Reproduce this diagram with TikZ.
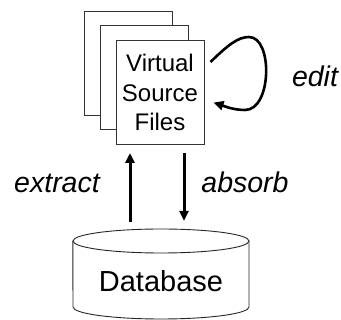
\documentclass[tikz,border=0pt]{standalone}
\usepackage{fontspec}
\setmainfont{Liberation Sans}
\usetikzlibrary{arrows.meta}
\begin{document}
\begin{tikzpicture}[x=1pt,y=-1pt,
  page/.style={draw=black!80,line width=1pt,fill=white,minimum width=88pt,minimum height=104pt,inner sep=0pt},
  pagetext/.style={font=\fontsize{24}{29.5}\selectfont,align=center},
  arr/.style={line width=3pt,-{Triangle[length=10pt,width=9pt]}},
  lbl/.style={font=\fontsize{28.5}{30}\selectfont\itshape,anchor=base,inner sep=0pt},
  dbline/.style={draw=black!85,line width=0.9pt}]
\useasboundingbox (0,0) rectangle (341,320);
% stacked pages
\node[page] (back) at (128,63.5) {};
\node[page] (mid) at (144.5,77.5) {};
\node[page,pagetext] (front) at (160,92.5) {Virtual\\Source\\Files};
% database cylinder
\node[minimum width=176pt,minimum height=90pt,inner sep=0pt] (db) at (161,274) {};
\path[dbline,fill=white] (db.north west) ++(0,12) -- (73,307) arc[start angle=180,end angle=0,x radius=88,y radius=12] -- (249,241);
\draw[dbline] (161,241) ellipse[x radius=88,y radius=12];
\node[font=\fontsize{29}{30}\selectfont,inner sep=0pt] (dbtext) at (161,281) {Database};
% arrows
\draw[arr,shorten <=7pt,shorten >=8pt] ([xshift=-31pt]db.north) -- ([xshift=-30pt]front.south);
\draw[arr,shorten <=8pt,shorten >=8pt] ([xshift=24pt]front.south) -- ([xshift=23pt]db.north);
% edit loop
\draw[arr,line width=2.6pt] ([shift={(6,22)}]front.north east) .. controls (228,45) and (238,37) .. (249,37)
  .. controls (273,37) and (272,110) .. (245,110)
  .. controls (233,110) and (224,106) .. ([shift={(9,10)}]front.east);
% labels
\node[lbl] (extract) at (57,193) {extract};
\node[lbl] (absorb) at (245,193) {absorb};
\node[lbl] (edit) at (315,87) {edit};
\end{tikzpicture}
\end{document}
